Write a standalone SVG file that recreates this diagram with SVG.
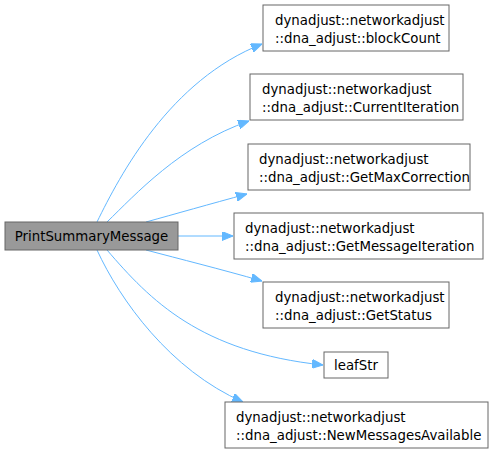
<svg xmlns="http://www.w3.org/2000/svg" width="494" height="453" viewBox="0 0 494 453">
<style>
.n rect{fill:#ffffff;stroke:#666666;stroke-width:1}
.root rect{fill:#999999;stroke:#666666}
text{font-family:"DejaVu Sans",sans-serif;font-size:13.33px;fill:#000000}
.c{text-anchor:middle}
.e{fill:none;stroke:#63b8ff;stroke-width:1}
</style>
<defs>
<marker id="a" markerWidth="11" markerHeight="9" refX="11" refY="4.5" orient="auto" markerUnits="userSpaceOnUse">
<path d="M0,0 L11,4.5 L0,9 Z" fill="#63b8ff" stroke="#63b8ff"/>
</marker>
</defs>
<g id="edges">
<path class="e" marker-end="url(#a)" d="M97,222 C120,175 170,80 262,44"/>
<path class="e" marker-end="url(#a)" d="M107,222 C135,195 180,145 249,121"/>
<path class="e" marker-end="url(#a)" d="M146,222 C175,214 210,204 247,194"/>
<path class="e" marker-end="url(#a)" d="M178,236 L233,236"/>
<path class="e" marker-end="url(#a)" d="M146,250 C180,259 220,269 262,281"/>
<path class="e" marker-end="url(#a)" d="M107,250 C150,300 200,352 323,365"/>
<path class="e" marker-end="url(#a)" d="M97,250 C120,300 170,370 243,402"/>
</g>
<g id="root" class="n root"><rect x="5" y="222" width="173" height="28"/><text class="c" x="91.5" y="241">PrintSummaryMessage</text></g>
<g id="blockCount" class="n"><rect x="263" y="5" width="186" height="46"/><text x="275" y="25">dynadjust::networkadjust</text><text x="275" y="43">::dna_adjust::blockCount</text></g>
<g id="CurrentIteration" class="n"><rect x="250" y="74" width="213" height="46"/><text x="262" y="94">dynadjust::networkadjust</text><text x="262" y="112">::dna_adjust::CurrentIteration</text></g>
<g id="GetMaxCorrection" class="n"><rect x="248" y="144" width="222" height="46"/><text x="259" y="164">dynadjust::networkadjust</text><text x="259" y="182">::dna_adjust::GetMaxCorrection</text></g>
<g id="GetMessageIteration" class="n"><rect x="234" y="213" width="249" height="46"/><text x="245" y="233">dynadjust::networkadjust</text><text x="245" y="251">::dna_adjust::GetMessageIteration</text></g>
<g id="GetStatus" class="n"><rect x="263" y="282" width="186" height="46"/><text x="275" y="302">dynadjust::networkadjust</text><text x="275" y="320">::dna_adjust::GetStatus</text></g>
<g id="leafStr" class="n"><rect x="324" y="352" width="64" height="26"/><text class="c" x="356" y="370">leafStr</text></g>
<g id="NewMessagesAvailable" class="n"><rect x="225" y="402" width="263" height="46"/><text x="236" y="422">dynadjust::networkadjust</text><text x="236" y="440">::dna_adjust::NewMessagesAvailable</text></g>
</svg>
